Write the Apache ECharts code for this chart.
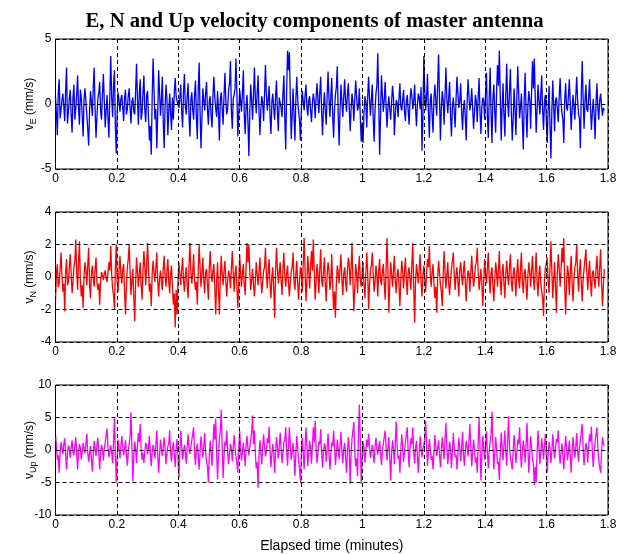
<!DOCTYPE html>
<html>
<head>
<meta charset="utf-8">
<script src="https://cdn.jsdelivr.net/npm/echarts@6/dist/echarts.min.js"></script>
<style>
  html, body { margin: 0; padding: 0; background: #fff; }
  #chart { width: 629px; height: 554px; }
</style>
</head>
<body>
<div id="chart"></div>
<script>
// Sample interval of the velocity records, in minutes
const sampleStep = 0.003;

// Time axis ticks (minutes)
const timeTicks = [0, 0.2, 0.4, 0.6, 0.8, 1, 1.2, 1.4, 1.6, 1.8];

// East velocity component (mm/s)
const velEast = [
  0.6, -0.7, -2.4, 0.9, 1.9, -1.1, -0.5, 0.3, 0.8, -0.2, -1.3, 1.0, 2.8, -1.5, -0.6, 0.4, 1.1, -0.8, -2.2, 0.5,
  1.5, -1.2, -0.4, 0.7, 2.2, -0.3, -1.6, 1.1, 0.5, -0.9, -2.5, 0.4, 1.2, 0.2, -0.8, -1.9, -3.2, -0.5, 1.0, 0.1,
  -0.9, 1.3, 2.8, -0.4, -2.6, -1.0, 0.4, 0.9, 1.7, -0.6, -1.2, 0.8, 2.3, 0.2, -1.8, -0.5, 0.7, -1.1, -2.6, 0.6,
  3.7, 0.5, -1.0, 1.4, 2.6, -1.7, -3.8, -0.6, 0.9, 0.2, -0.6, 0.4, 0.7, -0.3, -1.3, 0.5, 1.1, -0.8, -0.4, 0.6,
  1.2, -0.3, -1.5, 0.2, 0.5, -0.6, -0.8, 1.0, 3.1, 0.4, -1.6, 0.8, 1.9, -1.2, -0.7, 0.9, 2.2, -0.5, -1.4, 0.7,
  1.0, -1.0, -2.8, -1.7, -3.9, 0.6, 3.5, 1.2, -1.2, -0.4, -3.4, -0.8, 2.6, 0.9, -0.9, 0.3, 2.1, -1.4, -3.4, -0.2,
  1.5, 0.4, -2.4, -0.6, 0.8, -0.7, -2.0, 0.5, -1.2, 0.8, 2.0, 0.6, 0.2, 0.1, -0.3, 0.4, 1.5, -0.5, -1.8, 0.9,
  2.3, -0.2, -0.8, 0.6, 1.6, -0.9, -2.5, 0.3, 0.9, -0.4, -1.2, 0.7, 1.8, -1.0, -2.7, 1.1, 3.2, -0.6, -3.4, -1.1,
  1.2, 0.3, -0.5, 0.8, 1.7, -0.4, -1.6, 0.2, 0.6, -0.9, -1.8, 0.7, 2.1, 0.5, -0.4, -1.0, 1.0, -0.6, -2.8, 0.4,
  0.9, -0.3, -1.6, 0.6, 2.4, 0.2, -0.8, -0.3, 1.1, 1.6, 3.3, -0.5, -1.9, 0.4, 0.7, 1.2, 3.5, 0.8, -2.5, -0.7,
  1.1, 0.2, -0.6, 0.9, 2.6, -0.8, -2.3, -0.2, 0.7, -1.4, -4.0, -0.6, 1.5, 0.3, -1.2, 0.6, 2.8, 0.5, -0.7, 0.8,
  2.2, -0.4, -2.4, -0.5, 0.6, 0.1, -1.3, 0.7, 3.0, 0.8, -0.5, 0.3, 1.4, -0.9, -2.3, 0.2, 0.8, -0.4, -1.2, 0.6,
  1.8, -0.6, -2.1, 0.5, 0.4, -0.3, -1.0, 0.8, 2.2, -1.1, -3.5, 1.0, 4.1, 2.6, 4.0, 0.4, -2.7, -0.8, 1.2, -0.9,
  -2.8, 0.3, 2.1, 0.4, -0.6, -1.2, -2.8, -0.4, 1.0, 0.2, -0.5, 0.6, 1.5, -0.2, -0.9, 0.3, 0.6, -0.5, -1.4, 0.1,
  0.8, 0.2, -1.1, 0.5, 1.6, 0.3, -0.7, 0.9, 2.1, -0.6, -2.4, -0.3, 0.9, -0.5, -1.6, 0.7, 2.5, 0.4, -1.0, 0.6,
  2.0, -0.9, -2.6, -0.4, 0.7, 1.3, 2.9, -0.8, -3.2, -0.5, 1.5, 0.2, -1.0, 0.5, 1.9, 0.3, -0.6, 0.7, 1.6, -0.3,
  -2.1, -0.4, 0.8, 0.1, -1.3, 0.4, 1.8, 0.6, -0.5, -0.2, 1.2, -1.0, -2.9, -1.4, -3.0, -0.7, 0.6, 0.2, -1.8, 0.5,
  2.1, 0.4, -0.9, 0.3, 1.5, -1.0, -2.9, -0.5, 0.8, 1.4, 3.9, 0.2, -3.9, -0.9, 2.2, 0.6, -0.6, 0.3, 1.7, -0.2,
  -1.8, -0.3, 0.6, -0.4, -1.2, 0.2, 1.4, 0.5, -2.4, -0.8, 0.3, 0.1, -1.0, 0.4, 1.6, -0.2, -0.5, 0.3, 1.1, -0.6,
  -1.3, 0.2, 0.7, -0.5, -1.6, 0.3, 1.2, 0.6, -0.4, 0.2, 1.5, -0.3, -1.7, -0.1, 0.8, 0.5, -0.4, 1.3, -3.6, -1.0,
  3.7, 1.1, -0.5, 0.6, 2.3, -0.7, -2.6, 0.3, 0.8, -0.8, -2.2, 0.4, 1.5, 0.2, -0.9, 1.5, 3.8, 0.6, -2.8, -0.4,
  1.0, 0.3, -1.6, 0.7, 2.8, 0.4, -0.7, 0.5, 1.7, -0.9, -2.5, -0.2, 0.5, -0.6, -1.8, 0.4, 2.1, 0.8, -0.3, 0.2,
  1.6, -0.5, -2.0, -0.4, 0.3, -1.0, -2.8, 0.2, 1.9, 0.6, -0.5, 0.1, 1.2, -0.3, -1.9, -0.6, 0.7, 0.2, -1.4, 0.5,
  2.0, -0.6, -2.3, -0.2, 0.5, 0.3, -1.2, 0.8, 2.4, -0.9, -2.6, 0.5, 2.8, -0.7, -3.0, 0.4, 1.5, -0.5, -2.2, 0.9,
  3.0, 1.4, 4.1, 0.6, -2.8, -0.3, 1.6, -0.8, -2.5, 0.7, 3.1, 0.2, -1.0, 1.0, 2.7, -0.6, -2.8, -1.2, 1.2, -0.4,
  -2.4, 0.5, 2.9, 0.8, -1.1, -0.2, 0.8, -1.3, -3.5, 0.3, 2.4, -0.6, -2.6, -0.2, 1.0, 0.3, -1.9, 0.9, 3.3, 1.2,
  3.5, 0.4, -2.2, -0.4, 1.5, 0.3, -0.8, 0.7, 2.2, -0.5, -2.0, 0.2, 0.7, -1.1, -3.0, -0.3, 1.4, -1.6, -4.2, -0.6,
  1.8, -0.2, -2.1, 0.3, 0.5, -0.4, -1.4, 0.6, 2.0, 0.2, -0.7, -1.2, -3.0, 0.4, 1.6, -0.3, -0.5, 0.6, 1.9, 0.1,
  -2.0, -0.5, 0.7, -0.2, -1.2, 0.6, 2.1, 0.3, -0.8, -1.1, -3.4, 0.8, 3.3, 0.4, -1.9, 0.2, 1.5, -0.4, -0.6, 0.5,
  1.9, -0.3, -2.0, -0.6, 0.4, -0.9, -2.7, 0.2, 1.6, -0.4, -1.2, 0.3, 0.8, -0.2, -0.9, -0.3, -0.5
];

// North velocity component (mm/s)
const velNorth = [
  -1.5, 0.2, 0.8, -0.6, -0.4, 0.5, 1.5, 0.1, -0.9, -0.4, -2.1, 0.3, 1.1, -0.5, -0.3, 0.6, 1.4, 0.2, -1.0, -0.3,
  0.6, 1.0, 2.3, 0.3, -0.8, 0.9, 2.2, -0.2, -1.2, -0.5, -1.9, 0.1, 0.9, 0.4, -0.5, 0.7, 1.8, -0.4, -1.3, 0.2,
  0.7, -0.1, -0.6, 0.5, 1.2, -0.3, -0.8, -0.4, -1.7, -0.2, 0.3, 0.1, -0.2, 0.2, 0.4, -0.1, -0.3, 0.3, 0.9, 0.4,
  1.9, 0.2, -0.7, -1.1, -2.0, 0.6, 2.0, -0.3, -0.9, 0.4, 1.3, 0.2, -0.4, 0.5, 0.8, -0.9, -2.3, -0.6, 0.6, 1.1,
  2.0, 0.3, -1.1, -0.2, 0.5, -1.2, -2.7, -0.4, 1.2, 0.3, -0.6, 0.2, 0.9, -0.5, -1.4, 0.4, 1.6, 0.6, -0.5, 0.8,
  2.1, 0.5, -0.9, -0.4, -1.8, 0.2, 1.0, 0.3, -0.3, 0.6, 1.5, -0.2, -1.2, -0.1, 0.4, -0.3, -0.8, 0.5, 1.3, 0.1,
  -0.6, 0.4, 1.1, -0.3, -1.0, 0.2, 0.7, -0.6, -1.7, -1.0, -3.1, -0.8, -2.3, -0.3, 0.9, 0.2, -0.5, 0.4, 1.2, -0.2,
  -0.9, 0.1, 0.6, -0.5, -1.3, 0.7, 2.1, 0.4, -0.4, 0.3, 1.4, -0.2, -0.8, -0.3, -1.7, 0.5, 2.0, 0.6, -0.6, 0.2,
  1.2, -0.2, -1.0, 0.3, 0.5, -0.4, -1.4, 0.6, 1.6, 0.2, -0.3, 0.4, 0.8, -0.7, -2.3, -0.3, 0.9, -0.8, -2.3, -0.1,
  1.3, 0.2, -0.5, 0.4, 1.0, -0.3, -1.2, -0.2, 0.4, 0.1, -0.7, 0.5, 1.6, 0.3, -0.9, 0.2, 0.7, -0.6, -1.9, -0.4,
  1.4, 0.3, -0.6, 0.2, 0.8, -0.5, -1.1, 0.7, 2.1, 0.9, 2.0, 0.4, -0.8, -0.2, 0.5, -0.4, -1.2, -0.3, 0.9, 0.2,
  -0.5, 0.3, 1.2, -0.1, -1.0, -0.3, 0.4, 0.6, 1.8, 0.2, -0.7, 0.4, 1.1, -0.5, -1.3, 0.1, 0.6, -0.8, -2.5, 0.4,
  1.8, 0.5, -0.4, 0.3, 0.9, -0.2, -1.1, 0.4, 1.5, 0.1, -0.6, 0.2, 0.7, -0.4, -1.2, -0.3, 0.3, 0.6, 1.5, -0.2,
  -0.8, 0.2, 1.0, -0.4, -1.4, -0.2, 0.6, 0.3, -0.9, 0.8, 2.4, 0.5, -1.5, -0.3, 1.3, 0.4, -0.7, 0.6, 1.6, 0.4,
  2.3, 0.2, -1.4, -0.3, 0.8, 0.2, -1.0, 0.5, 1.7, -0.2, -0.6, 0.3, 1.2, -0.4, -1.5, 0.1, 0.9, 0.4, -0.8, -0.2,
  1.4, -0.5, -2.0, -0.9, -2.5, -0.4, 0.7, 0.3, -0.4, 0.6, 1.4, -0.2, -1.1, 0.2, 0.6, -0.3, -0.9, 0.4, 1.2, 0.7,
  -0.5, 0.6, 2.1, -0.3, -2.1, -0.6, 0.8, 0.2, -1.0, 0.4, 1.3, -0.2, -0.6, 0.3, 0.9, -0.4, -1.3, 0.2, 1.5, 0.3,
  -2.0, -0.5, 0.4, 0.7, 1.5, 0.2, -0.9, -0.3, 0.7, 0.1, -1.2, 0.4, 1.1, -0.2, -0.5, 0.3, 0.8, -0.4, -1.4, 0.5,
  2.4, 0.3, -2.2, -0.4, 0.9, 0.2, -0.6, 0.4, 1.3, -0.3, -1.0, 0.2, 0.5, -0.5, -1.8, -0.2, 1.0, 0.4, -0.7, 0.3,
  1.2, -0.2, -1.1, 0.3, 0.6, -0.2, -0.8, 0.9, 2.1, -0.6, -2.8, -0.3, 0.8, 0.2, -0.4, 0.5, 1.4, -0.3, -1.2, 0.1,
  0.7, -0.2, -0.9, 0.3, 1.1, 0.6, 1.9, 0.2, -0.6, 0.3, 0.8, -0.4, -1.3, -0.6, -2.2, -0.1, 1.0, 0.3, -0.5, -0.9,
  -1.8, 0.2, 1.6, 0.3, -0.7, 0.1, 0.9, -0.4, -1.1, -0.2, 0.5, 0.6, 1.5, 0.1, -0.8, 0.2, 0.6, -0.3, -1.2, 0.4,
  0.9, 0.1, -0.5, 0.4, 1.0, -0.3, -1.5, -0.2, 0.4, 0.2, -0.9, 0.3, 1.3, 0.2, -0.6, -0.1, 0.7, 0.9, 1.8, 0.3,
  -0.8, -0.2, 0.5, -0.4, -1.8, -0.3, 1.1, 0.2, -0.4, 0.5, 1.5, -0.1, -1.0, 0.3, 0.6, -0.5, -1.5, -0.2, 0.9, 0.3,
  -0.6, 0.4, 1.6, -0.2, -1.1, 0.3, 0.8, -0.4, -1.3, 0.2, 1.0, 0.1, -0.5, 0.6, 1.4, -0.3, -0.9, 0.2, 0.6, -0.2,
  -1.2, 0.3, 1.1, -0.2, -0.7, 0.6, 1.5, -0.3, -1.0, 0.2, 0.5, -0.5, -1.4, 0.1, 0.9, 0.3, -0.6, 0.4, 1.3, -0.1,
  -0.8, 0.4, 1.5, -0.3, -1.2, 0.2, 0.7, -0.4, -0.9, -1.3, -2.4, -0.2, 0.6, 0.8, 1.2, -0.3, -1.0, 0.6, 2.2, 0.4,
  -1.3, -0.2, 0.9, -0.6, -2.2, 0.3, 1.4, 0.5, -0.6, 0.4, 1.8, 0.9, 2.4, -0.5, -2.3, -0.4, 0.7, 0.2, -1.1, 0.3,
  1.3, -0.3, -1.5, -0.2, 0.6, 0.9, 2.0, 0.2, -0.9, 0.4, 1.1, -0.4, -1.5, -0.1, 0.5, 0.6, 1.7, 0.3, -0.8, 0.2,
  1.0, -0.3, -1.2, 0.2, 0.4, -0.2, -0.7, 0.5, 1.3, 0.1, -0.6, 0.6, 1.7, -0.4, -1.8, -0.5, 0.5
];

// Up velocity component (mm/s)
const velUp = [
  2.4, 0.5, -1.5, -0.8, -3.5, -0.4, 1.2, 0.3, -0.6, 0.9, 1.8, -0.7, -3.0, -0.5, 0.7, 0.2, -1.2, 0.4, 1.5, -0.3,
  -0.8, 0.6, 2.0, -0.6, -3.0, -0.2, 0.9, 0.4, -1.4, -0.3, 1.1, 0.2, -0.5, 1.0, 2.5, -0.4, -1.8, -0.5, 0.6, 0.3,
  -3.3, -0.6, 1.4, 0.2, -0.9, 0.7, 1.9, -0.5, -3.0, -0.4, 0.8, 0.1, -1.6, 0.3, 1.2, 1.5, 3.3, 0.4, -1.1, -0.2,
  0.7, -0.4, -2.0, 1.2, 5.0, -0.8, -5.0, -1.1, 1.6, 0.3, -1.3, 0.5, 2.2, 0.6, -0.8, 0.2, 1.5, -0.6, -2.4, -0.3,
  0.9, 2.1, 5.8, 0.4, -4.8, -1.0, 1.3, 0.2, -2.0, 0.7, 2.6, 1.2, 4.0, 0.3, -1.5, -0.4, -2.0, -0.2, 1.1, 0.6,
  -0.7, 0.4, 2.2, -0.5, -2.5, -0.3, 0.8, 0.2, -1.3, 0.9, 3.0, -0.6, -3.5, -0.8, 1.6, 0.3, -0.9, 0.5, 1.9, 0.2,
  -2.2, -0.4, 0.6, 1.0, 3.0, -0.5, -1.8, 0.3, 1.2, -0.7, -2.6, 0.2, 1.7, -1.2, -4.3, -0.5, 3.0, 0.6, -1.4, -0.2,
  0.8, -0.5, -2.1, 0.4, 2.4, 0.3, -0.6, 0.5, 1.5, 1.8, 3.5, -0.4, -2.3, -0.2, 1.0, -0.8, -3.0, -0.3, 2.1, 0.5,
  -1.2, 0.6, 2.6, -0.3, -1.9, -2.4, -5.0, -0.8, 1.4, -0.5, -2.4, 0.9, 4.0, 1.6, 4.8, -0.6, -4.5, -0.7, 1.8, 2.9,
  6.2, 0.8, -4.3, -0.9, 1.3, 0.7, 3.0, -0.4, -2.2, -0.3, 0.9, 0.2, -1.7, 0.5, 2.3, 0.3, -1.0, -0.8, -3.5, 0.4,
  3.0, 0.2, -1.6, -0.3, 1.1, -0.4, -2.5, 0.6, 2.2, 0.3, -0.8, 0.5, 1.6, 2.7, 5.3, 0.9, 3.0, -0.6, -2.8, -1.9,
  -5.8, -0.9, 1.5, -0.5, -2.2, 0.3, 2.4, 0.5, -1.0, -0.2, 1.8, 1.1, 3.6, -0.3, -2.6, -0.5, 0.9, -0.6, -3.5, -0.2,
  2.0, 0.4, -1.3, 0.6, 2.7, 0.2, -2.0, -0.4, 1.2, 1.6, 3.5, -0.2, -2.4, 0.5, 3.5, 0.8, -1.5, -0.3, 1.1, -0.9,
  -4.0, -0.5, 2.2, 0.3, -1.7, -2.8, -5.0, -0.7, 1.9, -0.4, -3.0, 0.2, 3.5, 0.6, -2.5, -0.3, 1.4, 0.2, -2.1, 0.7,
  3.5, 1.2, 4.5, 0.4, -2.0, -0.5, 1.3, 0.9, 3.2, -0.6, -2.7, -0.2, 1.0, 0.3, -1.8, 0.5, 2.5, -0.4, -3.0, -0.8,
  1.2, 0.6, 3.0, 0.4, -2.3, -0.5, 1.6, 0.2, -1.4, 0.7, 2.8, -0.3, -2.0, 0.1, 1.1, -1.0, -3.5, -0.4, 2.0, 0.3,
  -5.2, -0.6, 1.7, 2.0, 4.3, -0.3, -2.5, -1.3, -4.0, 2.4, 7.0, 1.5, -5.2, -1.4, 1.3, 0.4, -1.9, -0.2, 1.6, 0.5,
  2.5, 0.3, -1.2, -0.2, 0.8, -0.6, -2.0, 0.4, 1.9, 0.2, -0.7, 0.5, 1.4, -0.4, -2.3, -0.3, 1.0, 0.8, 3.0, 0.4,
  -1.6, 0.3, 2.0, -1.1, -4.7, -0.6, 1.5, 0.2, -2.2, 0.9, 4.4, 0.6, -1.3, -0.8, -3.5, -0.2, 2.4, 0.5, -1.8, -0.4,
  1.2, 1.5, 3.5, -0.3, -2.6, 0.2, 1.8, 0.9, 3.5, -0.4, -2.0, 0.3, 1.4, -0.8, -3.5, -0.5, 2.1, 0.4, -1.1, 0.2,
  0.8, 1.9, 4.5, 0.6, -2.4, -0.3, 1.7, 0.2, -1.5, -0.9, -3.0, -0.4, 2.3, 0.5, -0.9, 0.3, 1.5, -0.6, -2.6, -0.2,
  2.0, 0.3, -1.4, 1.5, 4.2, 0.4, -2.2, -0.4, 1.3, 0.2, -2.8, -0.3, 2.6, 0.5, -1.1, -0.7, -3.0, -0.5, 1.9, 0.4,
  -1.7, 0.2, 2.8, -0.4, -2.4, -0.3, 1.4, 0.5, -1.0, 1.3, 4.0, 0.6, -2.5, -0.4, 1.6, 0.2, -1.9, -1.2, -3.5, 1.0,
  5.0, 0.6, -4.7, -0.8, 2.2, 0.4, -1.5, 0.5, 2.9, -0.3, -2.8, -0.2, 1.3, 2.4, 5.9, 0.7, -3.0, -0.6, 2.0, 0.3,
  -2.2, -1.8, -4.6, -0.5, 2.7, 0.3, -1.6, 0.8, 3.0, -0.4, -2.4, 1.3, 5.2, 0.6, -1.2, -0.9, -3.0, -0.2, 2.3, 0.4,
  -2.0, -0.3, 1.6, 0.9, 3.5, -0.4, -2.7, -0.2, 1.4, 0.3, -1.9, 0.8, 4.2, 0.2, -3.5, -0.6, 2.1, 0.5, -1.5, -2.2,
  -5.4, -2.6, -5.0, -0.4, 3.0, 0.5, -2.2, -0.3, 1.8, 0.2, -1.4, 0.6, 2.5, -0.5, -3.5, -0.4, 1.2, 0.3, -2.0, -0.2,
  2.4, 0.4, -1.3, 0.2, 1.7, 1.2, 3.0, -0.3, -2.1, -0.4, 1.0, -0.8, -3.0, -0.2, 2.2, 0.4, -1.6, -0.3, 1.4, -0.7,
  -3.5, -0.4, 2.0, 0.3, -1.2, 0.5, 2.6, -0.2, -1.8, 0.4, 1.5, 1.6, 4.0, 0.3, -2.3, -0.5, 1.1, 0.2, -1.9, 0.6,
  2.4, 1.3, 3.6, -0.4, -2.6, -0.2, 1.3, 1.0, 3.5, 0.3, -1.7, -1.4, -3.5, -0.3, 2.0, 1.0, 0.6
];

// Per-panel y-axis settings and labels
const panelYMin = [-5, -4, -10];
const panelYMax = [5, 4, 10];
const panelYStep = [5, 2, 5];
const panelSub = ['E', 'N', 'Up'];
const panelColors = ['#0000ff', '#ff0000', '#ff00ff'];
const panelData = [velEast, velNorth, velUp];

const titleText = 'E, N and Up velocity components of master antenna';
const xAxisTitle = 'Elapsed time (minutes)';

const gridTops = [39, 212, 385];
const gridHeight = 130;
const FONT = 'Liberation Sans, Arial, sans-serif';

const chart = echarts.init(document.getElementById('chart'), null, { renderer: 'canvas' });

const grids = [], xAxes = [], yAxes = [], series = [];
for (let p = 0; p < 3; p++) {
  grids.push({
    left: 55.5, right: 21, top: gridTops[p], height: gridHeight,
    show: true, borderColor: '#000', borderWidth: 1, backgroundColor: '#fff',
    containLabel: false
  });
  xAxes.push({
    type: 'value', gridIndex: p, min: timeTicks[0], max: timeTicks[timeTicks.length - 1],
    interval: 0.2, z: 5,
    axisLine: { show: false },
    axisTick: { show: true, inside: true, length: 4, lineStyle: { color: '#000' } },
    axisLabel: { color: '#000', fontFamily: FONT, fontSize: 12, margin: 4 },
    splitLine: { show: true, lineStyle: { color: '#000', type: [4, 3], width: 1 } },
    name: p === 2 ? xAxisTitle : '',
    nameLocation: 'middle', nameGap: 24, nameMoveOverlap: false,
    nameTextStyle: { color: '#000', fontFamily: FONT, fontSize: 14 }
  });
  yAxes.push({
    type: 'value', gridIndex: p, min: panelYMin[p], max: panelYMax[p], interval: panelYStep[p], z: 5,
    axisLine: { show: false },
    axisTick: { show: true, inside: true, length: 4, lineStyle: { color: '#000' } },
    axisLabel: { color: '#000', fontFamily: FONT, fontSize: 12, margin: 4 },
    splitLine: { show: true, lineStyle: { color: '#000', type: [4, 3], width: 1 } },
    name: '{v|v}{s|' + panelSub[p] + '}{u| (mm/s)}',
    nameLocation: 'middle', nameRotate: 90, nameGap: 17, nameMoveOverlap: false,
    nameTextStyle: {
      color: '#000', fontFamily: FONT,
      rich: {
        v: { fontFamily: FONT, fontSize: 12, color: '#000', lineHeight: 18, verticalAlign: 'middle' },
        s: { fontFamily: FONT, fontSize: 9, color: '#000', lineHeight: 18, verticalAlign: 'bottom' },
        u: { fontFamily: FONT, fontSize: 12, color: '#000', lineHeight: 18, verticalAlign: 'middle' }
      }
    }
  });
  series.push({
    type: 'line', xAxisIndex: p, yAxisIndex: p, z: 2,
    showSymbol: false, symbol: 'none', sampling: null, animation: false,
    lineStyle: { color: panelColors[p], width: 1.3 },
    data: panelData[p].map((v, i) => [i * sampleStep, v])
  });
}

chart.setOption({
  animation: false,
  backgroundColor: '#fff',
  title: {
    text: titleText, left: 'center', top: 6,
    textStyle: { fontFamily: 'Liberation Serif, Times New Roman, serif', fontWeight: 'bold', fontSize: 20.7, color: '#000' }
  },
  grid: grids,
  xAxis: xAxes,
  yAxis: yAxes,
  series: series
});
</script>
</body>
</html>
